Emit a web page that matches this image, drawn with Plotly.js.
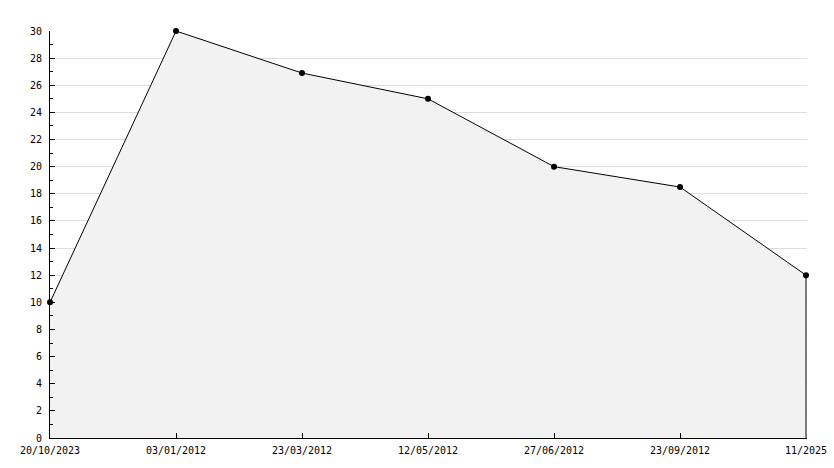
<!DOCTYPE html>
<html>
<head>
<meta charset="utf-8">
<script src="https://cdn.plot.ly/plotly-3.0.1.min.js"></script>
<style>html,body{margin:0;padding:0;background:#fff;}#chart{width:834px;height:468px;}</style>
</head>
<body>
<div id="chart"></div>
<script>
const categories = ["20/10/2023", "03/01/2012", "23/03/2012", "12/05/2012", "27/06/2012", "23/09/2012", "11/2025"];
const values = [10, 30, 26.9, 25, 20, 18.5, 12];

const lastCat = categories[categories.length - 1];
const lastVal = values[values.length - 1];

const traces = [
  {
    type: "scatter",
    mode: "lines+markers",
    x: categories,
    y: values,
    fill: "tozeroy",
    fillcolor: "#f2f2f2",
    line: {color: "#000", width: 1},
    marker: {color: "#000", size: 6, symbol: "circle"},
    cliponaxis: false,
    hoverinfo: "x+y"
  },
  {
    type: "scatter",
    mode: "lines",
    x: [lastCat, lastCat],
    y: [0, lastVal],
    line: {color: "#000", width: 1},
    hoverinfo: "skip",
    cliponaxis: false
  }
];

const font = {family: "DejaVu Sans Mono, monospace", size: 10, color: "#000"};

const layout = {
  width: 834,
  height: 468,
  margin: {l: 50, r: 27, t: 31, b: 30},
  paper_bgcolor: "#fff",
  plot_bgcolor: "#fff",
  showlegend: false,
  font: font,
  xaxis: {
    type: "category",
    range: [0, categories.length - 1 + 1 / 126],
    showgrid: false,
    zeroline: false,
    showline: true,
    linecolor: "#000",
    linewidth: 1,
    ticks: "inside",
    ticklen: 5,
    tickcolor: "#000",
    tickfont: font,
    ticklabelstandoff: 3,
    fixedrange: true
  },
  yaxis: {
    range: [0, 30],
    dtick: 2,
    tick0: 0,
    showgrid: true,
    gridcolor: "#dddddd",
    gridwidth: 1,
    zeroline: false,
    showline: true,
    linecolor: "#000",
    linewidth: 1,
    ticks: "inside",
    ticklen: 5,
    tickcolor: "#000",
    tickfont: font,
    ticklabelstandoff: 5,
    minor: {ticks: "inside", ticklen: 3, dtick: 1, tickcolor: "#000", showgrid: false},
    fixedrange: true
  }
};

Plotly.newPlot("chart", traces, layout, {displayModeBar: false, staticPlot: true});
</script>
</body>
</html>
